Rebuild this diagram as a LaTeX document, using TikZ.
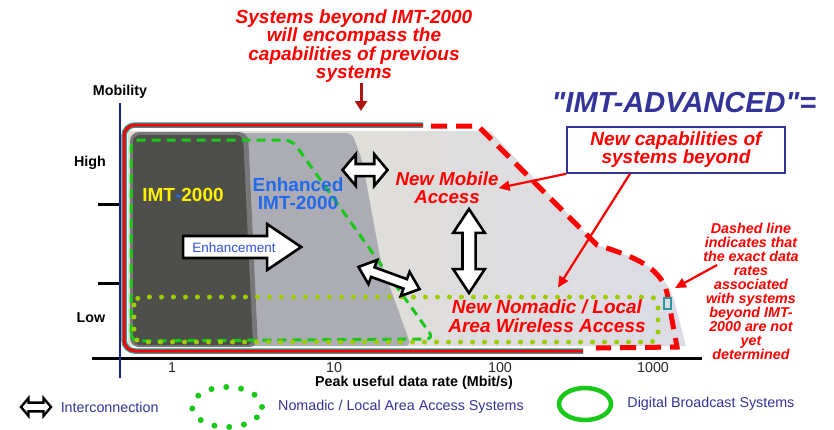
\documentclass[tikz,border=0pt]{standalone}
\usepackage{fontspec}
\setmainfont{Liberation Sans}
\usepackage{xcolor}
\usepackage{tikz}
\usetikzlibrary{arrows.meta,calc,positioning,shapes.arrows,shapes.geometric}
\definecolor{alertred}{RGB}{255,0,0}
\definecolor{titlenavy}{RGB}{51,51,153}
\definecolor{axisnavy}{RGB}{25,35,120}
\definecolor{imtdark}{RGB}{78,78,74}
\definecolor{enhgray}{RGB}{172,172,180}
\definecolor{advlight}{RGB}{220,220,230}
\definecolor{advbeige}{RGB}{226,223,208}
\definecolor{broadgreen}{RGB}{25,200,25}
\definecolor{nomadgreen}{RGB}{155,205,0}
\definecolor{edgeteal}{RGB}{45,150,150}
\definecolor{pointred}{RGB}{175,20,20}
\definecolor{enhblue}{RGB}{35,105,235}
\definecolor{enhtext}{RGB}{50,80,215}
\newcommand{\BoldIt}[2]{\fontsize{#1}{#2}\selectfont\bfseries\itshape}
\newcommand{\SmallTxt}{\fontsize{14.3}{15}\selectfont}
\tikzset{
  redtext/.style={font=\BoldIt{19}{18.6}, text=alertred, align=center, inner sep=0pt},
  axislabel/.style={font=\SmallTxt\bfseries, inner sep=0pt},
  ticklabel/.style={font=\SmallTxt, text=black!85, inner sep=0pt},
  legendtext/.style={font=\SmallTxt, text=titlenavy, inner sep=0pt},
  linkarrow/.style={double arrow, draw=black, fill=white, line width=2.6pt, inner sep=0pt, minimum width=0pt},
  redArrow/.style={-{Triangle[length=11pt,width=10pt]}, draw=alertred, line width=2.2pt},
  titleArrow/.style={-{Triangle[length=10pt,width=12pt]}, draw=pointred, line width=3pt},
  broadcast/.style={draw=broadgreen, line width=3pt, dash pattern=on 9pt off 6pt},
  nomadic/.style={draw=nomadgreen, line width=5pt, line cap=round, dash pattern=on 0pt off 12pt},
  advedge/.style={draw=alertred, line width=5pt, dash pattern=on 16pt off 9pt}
}

\begin{document}
\begin{tikzpicture}[x=1pt,y=-1pt]
  \useasboundingbox (0,0) rectangle (834,429);
  % areas of the systems
  \shade[left color=advbeige, right color=advlight] (128,131) -- (490,131) -- (597,245)
    .. controls (640,258) and (666,272) .. (674,300) -- (686,346) -- (128,346) -- cycle;
  \fill[enhgray, rounded corners=6] (236,133) -- (352,133) -- (362,160) -- (381,262) -- (411,346) -- (236,346) -- cycle;
  \fill[imtdark!55!enhgray, rounded corners=9] (130,132) -- (248,132) -- (258,347) -- (130,347) -- cycle;
  \fill[imtdark, rounded corners=7] (133,135) -- (243,135) -- (253,345) -- (133,345) -- cycle;
  % system borders
  \draw[broadcast, rounded corners=8] (131,341) -- (131,140) -- (292,140) -- (434,339) -- cycle;
  \draw[nomadic, rounded corners=8] (134,297) rectangle (658,342);
  \foreach \col/\wd in {edgeteal/5.5pt, alertred/3pt}
    \draw[\col, line width=\wd, rounded corners=11] (423,125) -- (124,125) -- (124,351) -- (583,351);
  \draw[advedge] (431,126) -- (478,126) -- (597,245) .. controls (640,258) and (664,270) .. (668,298) -- (677,347) -- (596,348);
  \draw[edgeteal, line width=1.2pt, fill=advlight] (664,298) rectangle (671,309);
  % axes
  \draw[black, line width=3pt] (92,358) -- (702,358);
  \foreach \ty in {204,283}
    \draw[black, line width=3pt] (98,\ty) -- (120,\ty);
  \draw[axisnavy, line width=2pt] (120,103) -- (120,378);
  \node[axislabel] (mobility) at (120,92) {Mobility};
  \node[axislabel] (high) at (90,163) {High};
  \node[axislabel] (low) at (91,318) {Low};
  \foreach \tx/\tl in {172/1, 334/10, 500/100, 653/1000}
    \node[ticklabel] (tick\tl) at (\tx,368) {\tl};
  \node[axislabel] (ratelabel) at (414,383) {Peak useful data rate (Mbit/s)};
  % systems
  \node[text=yellow, inner sep=0pt, font=\fontsize{19}{18}\selectfont\bfseries] (imt) at (183,195) {IMT\textcolor{enhblue}{-}2000};
  \node[align=center, text=enhblue, inner sep=0pt, font=\fontsize{19}{18}\selectfont\bfseries] (enhanced) at (298,194) {Enhanced\\IMT-2000};
  \node[single arrow, draw=black, fill=white, line width=2.6pt, font=\fontsize{13.5}{14}\selectfont, text=enhtext,
    text height=10pt, text depth=0pt, inner xsep=0pt, inner ysep=4.7pt, single arrow head extend=12pt,
    single arrow tip angle=68, minimum height=118pt] (enhance) at (234,247) {Enhancement};
  \node[redtext, font=\BoldIt{18.7}{17.5}] (mobile) at (447,188) {New Mobile\\Access};
  \node[redtext] (nomadicacc) at (547,316) {New Nomadic / Local\\Area Wireless Access};
  % interconnections
  \node[linkarrow, minimum height=45pt, text height=4.75pt, text depth=4.75pt,
    double arrow head extend=9.75pt, double arrow tip angle=100] (linkA) at (365,170) {};
  \node[linkarrow, rotate=-20, minimum height=65pt, text height=3.75pt, text depth=3.75pt,
    double arrow head extend=7.75pt, double arrow tip angle=80] (linkB) at (389,278) {};
  \node[linkarrow, rotate=90, minimum height=84pt, text height=5.25pt, text depth=5.25pt,
    double arrow head extend=9.25pt, double arrow tip angle=67] (linkC) at (469,251) {};
  % headings and notes
  \node[redtext] (title) at (354,46) {Systems beyond IMT-2000\\will encompass the\\capabilities of previous\\systems};
  \coordinate (titletip) at (361,111);
  \draw[titleArrow] ([xshift=7]title.south) -- (titletip);
  \node[font=\BoldIt{29}{30}\addfontfeature{Ligatures=TeXOff}, text=titlenavy, inner sep=0pt] (advanced) at (684,103) {"IMT-ADVANCED"=};
  \node[redtext, draw=titlenavy, line width=1.5pt, minimum width=218pt, minimum height=46pt,
    font=\BoldIt{19}{18}] (capbox) at (676,150) {New capabilities of\\systems beyond};
  \draw[redArrow] (capbox.south west) -- (mobile.east);
  \draw[redArrow] ([xshift=-46]capbox.south) -- ([xshift=11,yshift=12]nomadicacc.north);
  \node[redtext, font=\BoldIt{14.3}{14}] (note) at (751,291) {Dashed line\\indicates that\\the exact data\\rates\\associated\\with systems\\beyond IMT-\\2000 are not\\yet\\determined};
  \coordinate (dashmark) at (675,288);
  \draw[redArrow] ([xshift=14,yshift=26]note.west) -- (dashmark);
  % legend
  \node[linkarrow, line width=2.4pt, minimum height=30pt, text height=3.2pt, text depth=3.2pt,
    double arrow head extend=4.5pt, double arrow tip angle=100] (legLink) at (36,407) {};
  \node[legendtext, right=8pt of legLink] (legLinkText) {Interconnection};
  \node[ellipse, draw=broadgreen, line width=6pt, line cap=round, dash pattern=on 0pt off 14.9pt,
    minimum width=70pt, minimum height=40pt, inner sep=0pt] (legNomadic) at (227,407) {};
  \node[legendtext, right=13pt of legNomadic] (legNomadicText) {Nomadic / Local Area Access Systems};
  \node[ellipse, draw=broadgreen, line width=4.5pt, minimum width=52pt, minimum height=32pt,
    inner sep=0pt] (legBroadcast) at (585,404) {};
  \node[legendtext, right=14pt of legBroadcast] (legBroadcastText) {Digital Broadcast Systems};
\end{tikzpicture}
\end{document}
